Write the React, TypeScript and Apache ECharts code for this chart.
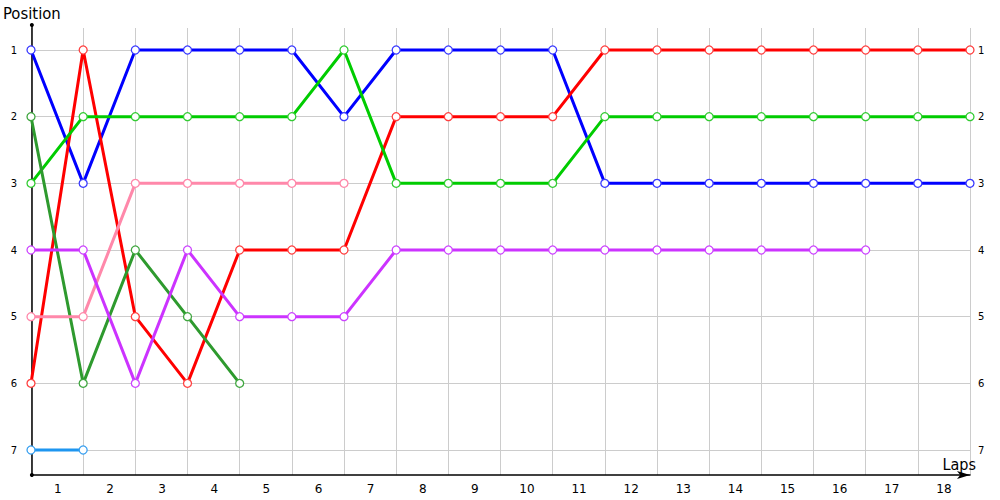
import React, { useEffect, useRef } from "react";
import * as echarts from "echarts";

const lapLabels = ["1", "2", "3", "4", "5", "6", "7", "8", "9", "10", "11", "12", "13", "14", "15", "16", "17", "18"];
const positionTicks = [1, 2, 3, 4, 5, 6, 7];

const blueSeries = [1, 3, 1, 1, 1, 1, 2, 1, 1, 1, 1, 3, 3, 3, 3, 3, 3, 3, 3];
const redSeries = [6, 1, 5, 6, 4, 4, 4, 2, 2, 2, 2, 1, 1, 1, 1, 1, 1, 1, 1];
const greenSeries = [3, 2, 2, 2, 2, 2, 1, 3, 3, 3, 3, 2, 2, 2, 2, 2, 2, 2, 2];
const darkGreenSeries = [2, 6, 4, 5, 6];
const pinkSeries = [5, 5, 3, 3, 3, 3, 3];
const purpleSeries = [4, 4, 6, 4, 5, 5, 5, 4, 4, 4, 4, 4, 4, 4, 4, 4, 4];
const lightBlueSeries = [7, 7];

const seriesDefs = [
  { name: "Blue", color: "#0000ff", marker: "#3a3aff", values: blueSeries },
  { name: "Red", color: "#ff0000", marker: "#ff4040", values: redSeries },
  { name: "Green", color: "#00cc00", marker: "#33cc33", values: greenSeries },
  { name: "DarkGreen", color: "#2e9a2e", marker: "#3fa63f", values: darkGreenSeries },
  { name: "Pink", color: "#ff88aa", marker: "#ff88aa", values: pinkSeries },
  { name: "Purple", color: "#cc33ff", marker: "#cc44ff", values: purpleSeries },
  { name: "LightBlue", color: "#1e96f0", marker: "#3aa0f0", values: lightBlueSeries },
];

const FONT = "DejaVu Sans, Verdana, sans-serif";
const NAME_FONT = "DejaVu Sans Condensed, DejaVu Sans, sans-serif";

export default function App() {
  const ref = useRef<HTMLDivElement>(null);

  useEffect(() => {
    if (!ref.current) return;
    const chart = echarts.init(ref.current, undefined, { renderer: "svg" });
    const option: any = {
      animation: false,
      backgroundColor: "#ffffff",
      grid: [
        { left: 31, right: 30, top: 50, bottom: 50 },
        { left: 31, right: 30, top: 25, bottom: 25 },
        { left: 31, right: 30, top: 28, bottom: 25 },
      ],
      xAxis: [
        { gridIndex: 0, type: "value", min: 0, max: lapLabels.length, show: false },
        {
          gridIndex: 1,
          type: "value",
          min: 0,
          max: lapLabels.length,
          interval: 1,
          position: "bottom",
          axisLine: {
            show: true,
            onZero: false,
            symbol: ["none", "arrow"],
            symbolSize: [6, 13],
            lineStyle: { color: "#000", width: 1.5 },
          },
          axisTick: { show: false },
          axisLabel: { show: false },
          splitLine: { show: false },
          name: "Laps",
          nameLocation: "end",
          nameGap: 6,
          nameTextStyle: {
            fontFamily: NAME_FONT,
            fontSize: 16,
            color: "#000",
            align: "right",
            verticalAlign: "bottom",
            padding: [0, 0, 3, 0],
          },
        },
        {
          gridIndex: 1,
          type: "category",
          data: lapLabels,
          boundaryGap: true,
          position: "bottom",
          offset: 0,
          axisLine: { show: false },
          axisTick: { show: false },
          splitLine: { show: false },
          axisLabel: { show: true, fontFamily: FONT, fontSize: 12, color: "#000", margin: 8 },
        },
        {
          gridIndex: 2,
          type: "value",
          min: 0,
          max: lapLabels.length,
          interval: 1,
          axisLine: { show: false },
          axisTick: { show: false },
          axisLabel: { show: false },
          splitLine: { show: true, lineStyle: { color: "#cccccc", width: 1 } },
        },
      ],
      yAxis: [
        {
          gridIndex: 0,
          type: "value",
          inverse: true,
          min: positionTicks[0],
          max: positionTicks[positionTicks.length - 1],
          interval: 1,
          position: "left",
          axisLine: { show: false },
          axisTick: { show: false },
          splitLine: { show: true, lineStyle: { color: "#cccccc", width: 1 } },
          axisLabel: { fontFamily: FONT, fontSize: 10, color: "#000", margin: 14 },
        },
        {
          gridIndex: 0,
          type: "value",
          inverse: true,
          min: positionTicks[0],
          max: positionTicks[positionTicks.length - 1],
          interval: 1,
          position: "right",
          axisLine: { show: false },
          axisTick: { show: false },
          splitLine: { show: false },
          axisLabel: { fontFamily: FONT, fontSize: 10, color: "#000", margin: 8 },
        },
        {
          gridIndex: 1,
          type: "value",
          min: 0,
          max: 1,
          position: "left",
          axisLine: {
            show: true,
            onZero: false,
            symbol: ["circle", "circle"],
            symbolSize: [4, 4],
            lineStyle: { color: "#000", width: 1.5 },
          },
          axisTick: { show: false },
          axisLabel: { show: false },
          splitLine: { show: false },
          name: "Position",
          nameLocation: "end",
          nameGap: 3,
          nameTextStyle: {
            fontFamily: NAME_FONT,
            fontSize: 16.5,
            color: "#000",
            align: "center",
            verticalAlign: "bottom",
          },
        },
        {
          gridIndex: 2,
          type: "value",
          min: 0,
          max: 1,
          show: false,
        },
      ],
      series: seriesDefs.map((s) => ({
        name: s.name,
        type: "line",
        xAxisIndex: 0,
        yAxisIndex: 0,
        clip: false,
        z: 3,
        data: s.values.map((v, i) => [i, v]),
        lineStyle: { color: s.color, width: 3 },
        symbol: "circle",
        symbolSize: 8,
        showSymbol: true,
        itemStyle: { color: "#ffffff", borderColor: s.marker, borderWidth: 1.3 },
        emphasis: { disabled: true },
      })),
    };
    chart.setOption(option);
    return () => chart.dispose();
  }, []);

  return (
    <div
      ref={ref}
      style={{ position: "fixed", left: 0, top: 0, width: 1000, height: 500 }}
    />
  );
}
